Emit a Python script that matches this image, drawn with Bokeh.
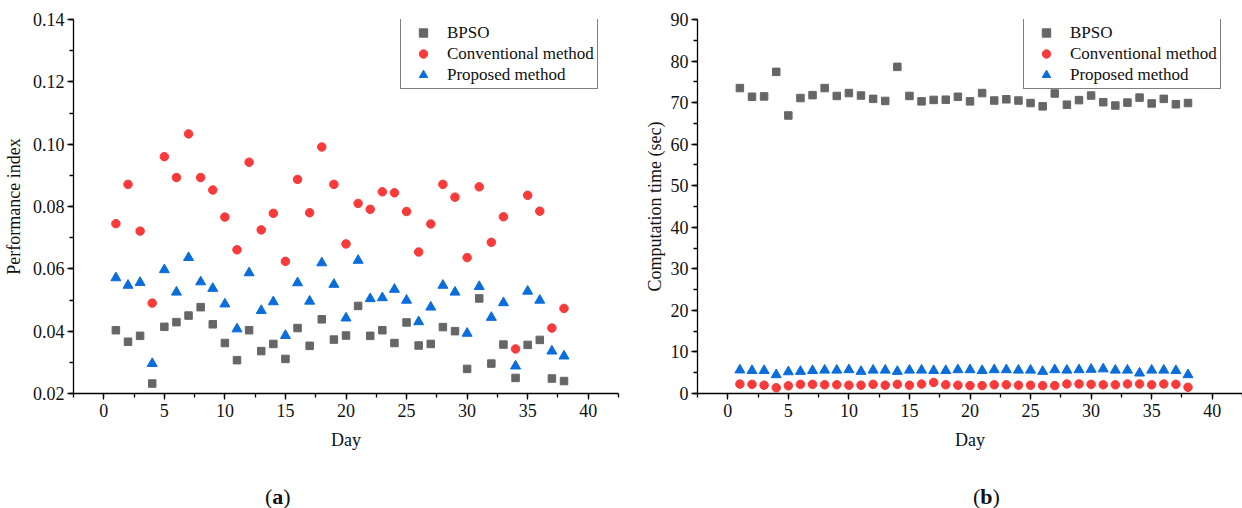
from bokeh.plotting import figure
from bokeh.layouts import row, column
from bokeh.models import (Range1d, SingleIntervalTicker, NumeralTickFormatter,
                          Legend, LegendItem, ColumnDataSource, Div)
from bokeh.embed import file_html
from bokeh.resources import INLINE

days = list(range(1, 39))

perf_bpso = [0.0403, 0.0366, 0.0385, 0.0232, 0.0414, 0.0429, 0.0450, 0.0477, 0.0422, 0.0362,
             0.0307, 0.0403, 0.0336, 0.0359, 0.0311, 0.0410, 0.0353, 0.0438, 0.0373, 0.0386,
             0.0481, 0.0385, 0.0403, 0.0362, 0.0428, 0.0354, 0.0359, 0.0413, 0.0400, 0.0279,
             0.0505, 0.0296, 0.0357, 0.0250, 0.0356, 0.0372, 0.0248, 0.0240]
perf_conv = [0.0745, 0.0871, 0.0721, 0.0490, 0.0960, 0.0893, 0.1033, 0.0893, 0.0853, 0.0766,
             0.0661, 0.0942, 0.0725, 0.0778, 0.0624, 0.0887, 0.0780, 0.0991, 0.0871, 0.0680,
             0.0810, 0.0791, 0.0847, 0.0844, 0.0784, 0.0654, 0.0744, 0.0871, 0.0830, 0.0636,
             0.0863, 0.0685, 0.0767, 0.0343, 0.0836, 0.0785, 0.0410, 0.0473]
perf_prop = [0.0571, 0.0547, 0.0556, 0.0296, 0.0597, 0.0525, 0.0636, 0.0558, 0.0537, 0.0487,
             0.0407, 0.0587, 0.0466, 0.0494, 0.0386, 0.0555, 0.0496, 0.0619, 0.0550, 0.0442,
             0.0627, 0.0504, 0.0507, 0.0534, 0.0499, 0.0430, 0.0477, 0.0547, 0.0525, 0.0393,
             0.0543, 0.0444, 0.0491, 0.0288, 0.0528, 0.0499, 0.0336, 0.0320]

time_bpso = [73.5, 71.4, 71.5, 77.4, 66.9, 71.1, 71.8, 73.5, 71.6, 72.3,
             71.7, 70.9, 70.4, 78.6, 71.6, 70.3, 70.65, 70.7, 71.4, 70.3,
             72.3, 70.5, 70.8, 70.5, 69.9, 69.1, 72.2, 69.5, 70.6, 71.7,
             70.1, 69.3, 70.0, 71.2, 69.8, 70.9, 69.6, 69.9]
time_conv = [2.27, 2.2, 2.0, 1.38, 1.85, 2.2, 2.2, 2.1, 2.1, 2.0,
             2.0, 2.2, 2.0, 2.2, 2.0, 2.27, 2.66, 2.1, 2.0, 1.9,
             1.9, 2.1, 2.1, 2.0, 2.0, 1.9, 1.9, 2.3, 2.3, 2.2,
             2.1, 2.1, 2.3, 2.3, 2.1, 2.3, 2.2, 1.5]
time_prop = [5.65, 5.5, 5.5, 4.5, 5.2, 5.3, 5.5, 5.6, 5.6, 5.7,
             5.3, 5.6, 5.6, 5.3, 5.6, 5.6, 5.5, 5.5, 5.7, 5.7,
             5.5, 5.7, 5.7, 5.6, 5.6, 5.3, 5.7, 5.6, 5.7, 5.8,
             5.9, 5.6, 5.6, 4.9, 5.6, 5.6, 5.5, 4.5]

series_names = ["BPSO", "Conventional method", "Proposed method"]
x_label = "Day"
y_labels = ["Performance index", "Computation time (sec)"]
panel_tags = ["a", "b"]

C_GRAY = "#666666"
C_RED = "#F93A3A"
C_BLUE = "#0A6DDC"
FONT = "Liberation Serif"


def make_panel(ys, y_range, y_interval, y_fmt, y_label, border_left, border_right,
               legend_x, ylab_standoff):
    p = figure(width=621, height=470, output_backend="svg", toolbar_location=None,
               x_range=Range1d(-2.5, 42.5), y_range=Range1d(*y_range),
               min_border_left=border_left, min_border_right=border_right,
               min_border_top=19, min_border_bottom=77)
    p.outline_line_color = None
    p.xgrid.visible = False
    p.ygrid.visible = False
    p.background_fill_color = "white"
    p.border_fill_color = "white"

    src = ColumnDataSource(dict(day=days, a=ys[0], b=ys[1], c=ys[2]))
    r1 = p.scatter("day", "a", source=src, marker="square", size=7.5,
                   fill_color=C_GRAY, line_color=C_GRAY)
    r2 = p.scatter("day", "b", source=src, marker="circle", size=8.5,
                   fill_color=C_RED, line_color=C_RED)
    r3 = p.scatter("day", "c", source=src, marker="triangle", size=10,
                   fill_color=C_BLUE, line_color=C_BLUE)

    p.xaxis.ticker = SingleIntervalTicker(interval=5, num_minor_ticks=2)
    p.yaxis.ticker = SingleIntervalTicker(interval=y_interval, num_minor_ticks=2)
    p.yaxis.formatter = NumeralTickFormatter(format=y_fmt)
    for ax in (p.xaxis[0], p.yaxis[0]):
        ax.axis_line_color = "black"
        ax.axis_line_width = 1.3
        ax.major_tick_line_color = "black"
        ax.major_tick_line_width = 1.3
        ax.minor_tick_line_color = "black"
        ax.minor_tick_line_width = 1.3
        ax.major_tick_in = 0
        ax.major_tick_out = 6
        ax.minor_tick_in = 0
        ax.minor_tick_out = 4
        ax.major_label_text_font = FONT
        ax.major_label_text_font_size = "18px"
        ax.major_label_text_color = "#111111"
        ax.axis_label_text_font = FONT
        ax.axis_label_text_font_size = "18px"
        ax.axis_label_text_font_style = "normal"
        ax.axis_label_text_color = "#111111"
    p.xaxis.axis_label = x_label
    p.yaxis.axis_label = y_label
    p.xaxis.major_label_standoff = 4
    p.yaxis.major_label_standoff = 3
    p.xaxis.axis_label_standoff = 10
    p.yaxis.axis_label_standoff = ylab_standoff

    legend = Legend(items=[LegendItem(label=series_names[0], renderers=[r1]),
                           LegendItem(label=series_names[1], renderers=[r2]),
                           LegendItem(label=series_names[2], renderers=[r3])],
                    location=(legend_x, 304), margin=0, padding=3, spacing=0,
                    glyph_width=38, glyph_height=21, label_height=21,
                    label_standoff=5, label_text_font=FONT,
                    label_text_font_size="17px", label_text_color="#111111",
                    border_line_color="black", border_line_width=1.3,
                    background_fill_color="white", background_fill_alpha=1)
    p.add_layout(legend, "center")
    return p


def make_tag(tag, left):
    html = ('<div style="margin-left:%dpx; margin-top:9px; line-height:26px; '
            'font-family:\'Liberation Serif\'; font-size:22px; color:#111111;">'
            '(<b>%s</b>)</div>' % (left, tag))
    return Div(text=html, width=621, height=38,
               styles={"font-size": "22px", "font-family": "Liberation Serif"})


p1 = make_panel([perf_bpso, perf_conv, perf_prop], (0.02, 0.14), 0.02, "0.00",
                y_labels[0], 71, 3, 327, 6)
p2 = make_panel([time_bpso, time_conv, time_prop], (0, 90), 10, "0",
                y_labels[1], 76, 0, 326, 3)

layout = column(row(p1, p2), row(make_tag(panel_tags[0], 260), make_tag(panel_tags[1], 337)))
open("out.html", "w").write(file_html(layout, INLINE))
